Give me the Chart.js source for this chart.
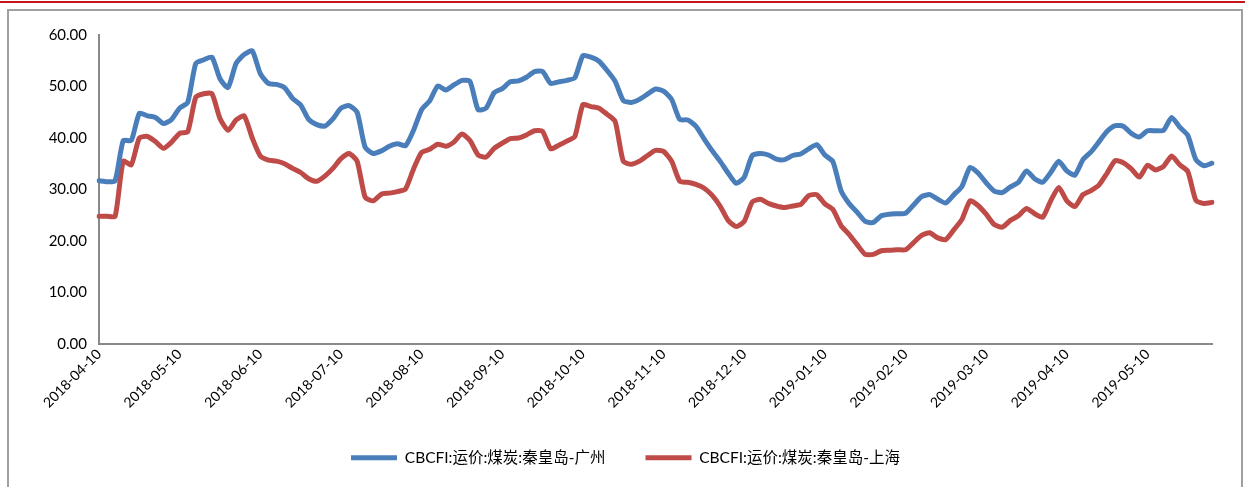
<!DOCTYPE html>
<html>
<head>
<meta charset="utf-8">
<script src="https://cdn.jsdelivr.net/npm/chart.js@4.4.1/dist/chart.umd.min.js"></script>
<style>
    body { margin: 0; background: #fff; }
    #topLine { position: absolute; left: 0; top: 1px; width: 1245px; height: 2px; background: #c8151d; }
    #frame { position: absolute; left: 7px; top: 9px; width: 1232px; height: 600px; border: 2px solid #a0a0a0; }
    #freightChart { position: absolute; left: 0; top: 0; }
</style>
</head>
<body>
<div id="topLine"></div>
<div id="frame"></div>
<canvas id="freightChart" width="1245" height="487"></canvas>
<script>
// x axis labels, one every 10 points
const tickLabels = [
    "2018-04-10", "2018-05-10", "2018-06-10", "2018-07-10", "2018-08-10",
    "2018-09-10", "2018-10-10", "2018-11-10", "2018-12-10", "2019-01-10",
    "2019-02-10", "2019-03-10", "2019-04-10", "2019-05-10"
];

// CBCFI:运价:煤炭:秦皇岛-广州
const guangzhou = [
    31.7, 31.5, 31.7, 39.5, 39.5, 44.8, 44.3, 44.0, 42.8, 43.6,
    45.8, 46.9, 54.5, 55.2, 55.7, 51.5, 49.8, 54.5, 56.2, 56.9,
    52.5, 50.6, 50.4, 49.8, 47.7, 46.4, 43.6, 42.6, 42.3, 43.7,
    45.8, 46.3, 45.0, 38.2, 37.0, 37.5, 38.4, 38.9, 38.5, 41.5,
    45.5, 47.2, 50.1, 49.3, 50.3, 51.2, 51.0, 45.5, 45.8, 48.8,
    49.6, 50.9, 51.1, 51.8, 52.9, 52.9, 50.6, 50.9, 51.2, 51.7,
    56.0, 55.7, 54.9, 53.1, 51.0, 47.3, 46.9, 47.5, 48.5, 49.5,
    49.1, 47.5, 43.6, 43.5, 42.3, 39.9, 37.6, 35.5, 33.2, 31.2,
    32.4, 36.6, 37.0, 36.7, 35.9, 35.8, 36.6, 36.9, 37.9, 38.7,
    36.7, 35.4, 29.8, 27.3, 25.6, 23.8, 23.6, 24.9, 25.2, 25.3,
    25.4, 27.0, 28.6, 29.0, 28.1, 27.4, 29.0, 30.6, 34.3, 33.2,
    31.3, 29.7, 29.4, 30.5, 31.4, 33.6, 32.1, 31.4, 33.3, 35.5,
    33.6, 32.8, 35.8, 37.3, 39.3, 41.3, 42.4, 42.3, 40.9, 40.2,
    41.4, 41.4, 41.5, 44.0, 42.1, 40.5, 35.8, 34.6, 35.1
];

// CBCFI:运价:煤炭:秦皇岛-上海
const shanghai = [
    24.8, 24.8, 24.8, 35.5, 34.8, 40.0, 40.3, 39.3, 38.0, 39.2,
    40.9, 41.2, 47.9, 48.6, 48.6, 43.8, 41.5, 43.5, 44.3, 40.0,
    36.5, 35.7, 35.5, 35.0, 34.1, 33.3, 32.1, 31.6, 32.6, 34.1,
    36.0, 37.0, 35.5, 28.5, 27.8, 29.1, 29.3, 29.6, 30.1, 34.0,
    37.2, 37.8, 38.8, 38.4, 39.2, 40.8, 39.5, 36.7, 36.3, 38.0,
    39.0, 39.9, 40.0, 40.6, 41.4, 41.3, 37.9, 38.6, 39.4, 40.3,
    46.5, 46.1, 45.8, 44.6, 43.2, 35.5, 34.9, 35.5, 36.6, 37.6,
    37.4, 35.5, 31.6, 31.4, 31.0, 30.3, 28.9, 26.8, 24.0, 22.8,
    23.8, 27.6, 28.1, 27.3, 26.8, 26.5, 26.8, 27.1, 28.8, 29.0,
    27.2, 26.1, 23.0, 21.3, 19.3, 17.4, 17.4, 18.1, 18.2, 18.3,
    18.3, 19.7, 21.1, 21.6, 20.6, 20.3, 22.2, 24.2, 27.8, 26.9,
    25.2, 23.2, 22.7, 24.0, 24.9, 26.3, 25.3, 24.6, 27.8, 30.4,
    27.8, 26.7, 29.0, 29.8, 30.9, 33.2, 35.6, 35.2, 34.0, 32.4,
    34.7, 33.8, 34.5, 36.5, 34.8, 33.5, 27.9, 27.3, 27.5
];

const labels = guangzhou.map((v, i) => (i % 10 === 0 ? tickLabels[i / 10] : ""));

const fontFamily = "Lato, 'Noto Sans CJK SC', sans-serif";

const freightChart = new Chart(document.getElementById("freightChart"), {
    type: "line",
    data: {
        labels: labels,
        datasets: [
            {
                label: "CBCFI:运价:煤炭:秦皇岛-广州",
                data: guangzhou,
                borderColor: "#4a7ebb",
                backgroundColor: "#4a7ebb",
                borderWidth: 5,
                borderCapStyle: "round",
                borderJoinStyle: "round",
                tension: 0.2,
                pointRadius: 0,
                pointHoverRadius: 0
            },
            {
                label: "CBCFI:运价:煤炭:秦皇岛-上海",
                data: shanghai,
                borderColor: "#be4b48",
                backgroundColor: "#be4b48",
                borderWidth: 5,
                borderCapStyle: "round",
                borderJoinStyle: "round",
                tension: 0.2,
                pointRadius: 0,
                pointHoverRadius: 0
            }
        ]
    },
    options: {
        responsive: false,
        animation: false,
        devicePixelRatio: 1,
        layout: { padding: { left: 39, right: 33, top: 35, bottom: 17 } },
        plugins: {
            tooltip: { enabled: false },
            legend: {
                position: "bottom",
                maxHeight: 60,
                labels: {
                    usePointStyle: true,
                    pointStyle: "line",
                    pointStyleWidth: 46,
                    padding: 40,
                    color: "#000",
                    font: { family: fontFamily, size: 15.5 }
                }
            }
        },
        scales: {
            x: {
                offset: false,
                grid: { display: false, drawTicks: false },
                border: { display: true, color: "#898989", width: 2 },
                afterFit: (scale) => { scale.height = 66; },
                ticks: {
                    autoSkip: false,
                    maxRotation: 45,
                    minRotation: 45,
                    padding: 2,
                    color: "#000",
                    font: { family: fontFamily, size: 14 }
                }
            },
            y: {
                min: 0,
                max: 60,
                grid: { display: false, drawTicks: false },
                border: { display: true, color: "#898989", width: 2 },
                afterFit: (scale) => { scale.width = 60; },
                ticks: {
                    stepSize: 10,
                    padding: 12,
                    color: "#000",
                    font: { family: fontFamily, size: 15 },
                    callback: (v) => v.toFixed(2)
                }
            }
        }
    }
});
</script>
</body>
</html>
